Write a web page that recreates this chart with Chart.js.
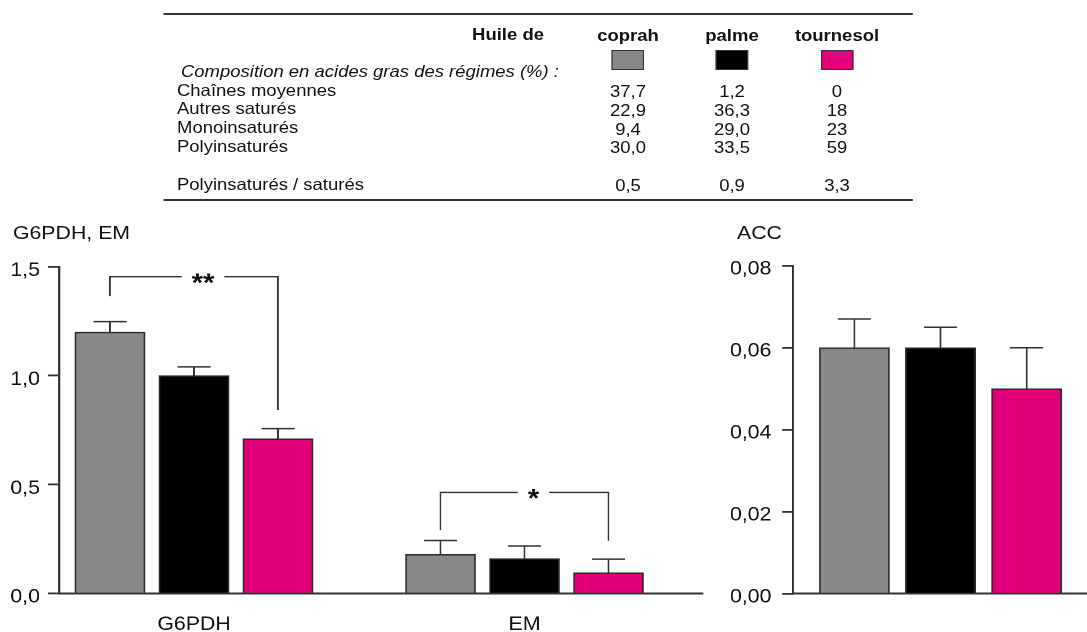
<!DOCTYPE html>
<html>
<head>
<meta charset="utf-8">
<title>Huiles de coprah, palme, tournesol</title>
<script src="https://cdn.jsdelivr.net/npm/chart.js@4.4.1/dist/chart.umd.min.js"></script>
<style>
  html, body { margin: 0; padding: 0; background: #fff; overflow: hidden; }
  body { width: 1087px; height: 632px; position: relative; }
  /* the whole figure is drawn slightly narrow and widened horizontally */
  #page {
    position: absolute; left: 0; top: 0;
    width: 970.6px; height: 632px;
    transform: scaleX(1.12); transform-origin: 0 0;
    font-family: "Liberation Sans", Arial, Helvetica, sans-serif;
    color: #111;
  }
  .t { position: absolute; white-space: nowrap; }
  .blk { position: absolute; box-sizing: border-box; }
  .wrap { position: absolute; }
</style>
</head>
<body>
<div id="page">
  <div class="wrap" id="enzWrap"><canvas id="enzChart"></canvas></div>
  <div class="wrap" id="accWrap"><canvas id="accChart"></canvas></div>
</div>
<script>
// ---- diets ----
const oils = ['coprah', 'palme', 'tournesol'];
const oilColors = ['#888888', '#000000', '#e2007a'];

// ---- fatty-acid composition of the diets (%) ----
const compTitle = 'Composition en acides gras des régimes (%) :';
const compRows = ['Chaînes moyennes', 'Autres saturés', 'Monoinsaturés', 'Polyinsaturés'];
const compCoprah = ['37,7', '22,9', '9,4', '30,0'];
const compPalme = ['1,2', '36,3', '29,0', '33,5'];
const compTournesol = ['0', '18', '23', '59'];
const ratioLabel = 'Polyinsaturés / saturés';
const ratioValues = ['0,5', '0,9', '3,3'];

// ---- G6PDH and EM activities ----
const enzymes = ['G6PDH', 'EM'];
const enzTickLabels = ['0,0', '0,5', '1,0', '1,5'];
const coprahEnz = [1.20, 0.18];
const palmeEnz = [1.00, 0.16];
const tournesolEnz = [0.71, 0.095];
const coprahEnzErr = [0.048, 0.063];
const palmeEnzErr = [0.04, 0.058];
const tournesolEnzErr = [0.047, 0.063];
// significance brackets: coprah vs tournesol
const enzSignif = [
  { category: 0, from: 0, to: 2, label: '**', level: 1.454, ends: [1.365, 0.842] },
  { category: 1, from: 0, to: 2, label: '*', level: 0.464, ends: [0.291, 0.242] }
];

// ---- ACC activity ----
const accTickLabels = ['0,00', '0,02', '0,04', '0,06', '0,08'];
const coprahAcc = [0.060];
const palmeAcc = [0.060];
const tournesolAcc = [0.050];
const coprahAccErr = [0.007];
const palmeAccErr = [0.005];
const tournesolAccErr = [0.010];

// ---- layout helpers (figure pixels -> page pixels before widening) ----
const S = 1.12;
const px = v => v / S;
const FONT = '"Liberation Sans", Arial, Helvetica, sans-serif';
const INK = '#111';
const LINE = '#333';
const page = document.getElementById('page');

function addText(str, x, baseline, size, opts = {}) {
  const d = document.createElement('div');
  d.className = 't';
  d.textContent = str;
  const L = Math.ceil(size * 1.3);
  d.style.fontSize = size + 'px';
  d.style.lineHeight = L + 'px';
  d.style.top = (baseline - ((L - 1.117 * size) / 2 + 0.905 * size)) + 'px';
  d.style.left = px(x) + 'px';
  if (opts.bold) d.style.fontWeight = 'bold';
  if (opts.italic) d.style.fontStyle = 'italic';
  if (opts.align === 'center') d.style.transform = 'translateX(-50%)';
  if (opts.align === 'right') d.style.transform = 'translateX(-100%)';
  page.appendChild(d);
}
function addBlock(x, y, w, h, style) {
  const d = document.createElement('div');
  d.className = 'blk';
  d.style.left = px(x) + 'px';
  d.style.top = y + 'px';
  d.style.width = px(w) + 'px';
  d.style.height = h + 'px';
  Object.assign(d.style, style);
  page.appendChild(d);
}

// ---- composition table ----
const colX = [628, 732, 837];
const compCols = [compCoprah, compPalme, compTournesol];
const TS = 16.5;
addBlock(163, 12.5, 750, 2, { background: LINE });
addBlock(163, 199, 750, 2, { background: LINE });
addText('Huile de', 544, 40, TS, { bold: true, align: 'right' });
oils.forEach((name, k) => {
  addText(name, colX[k], 40.5, TS, { bold: true, align: 'center' });
  addBlock(colX[k] - 16.5, 49.7, 33, 20, { background: oilColors[k], border: '1.5px solid #333' });
});
addText(compTitle, 181, 76.3, TS, { italic: true });
compRows.forEach((row, i) => {
  addText(row, 177, 95.5 + i * 18.7, TS);
  compCols.forEach((col, k) => addText(col[i], colX[k], 97.2 + i * 18.6, TS, { align: 'center' }));
});
addText(ratioLabel, 177, 189.8, TS);
ratioValues.forEach((v, k) => addText(v, colX[k], 191, TS, { align: 'center' }));

// ---- axis titles ----
addText('G6PDH, EM', 13, 239.3, 19);
addText('ACC', 737, 239.5, 19);

// ---- shared chart pieces ----
Chart.defaults.font.family = FONT;
Chart.defaults.color = INK;

const errorBars = {
  id: 'errorBars',
  afterDatasetsDraw(chart) {
    const { ctx } = chart;
    const y = chart.scales.y;
    const half = px(33) / 2;
    ctx.save();
    ctx.strokeStyle = LINE;
    ctx.lineWidth = 1.5;
    chart.data.datasets.forEach((ds, i) => {
      chart.getDatasetMeta(i).data.forEach((bar, j) => {
        const raw = ds.data[j];
        const v = typeof raw === 'object' ? raw.y : raw;
        const top = y.getPixelForValue(v + ds.err[j]);
        ctx.beginPath();
        ctx.moveTo(bar.x, bar.y);
        ctx.lineTo(bar.x, top);
        ctx.moveTo(bar.x - half, top);
        ctx.lineTo(bar.x + half, top);
        ctx.stroke();
      });
    });
    ctx.restore();
  }
};

function signifBrackets(items) {
  return {
    id: 'signifBrackets',
    afterDatasetsDraw(chart) {
      const { ctx } = chart;
      const y = chart.scales.y;
      const fs = 26;
      ctx.save();
      ctx.strokeStyle = LINE;
      ctx.lineWidth = 1.4;
      ctx.fillStyle = INK;
      ctx.font = 'bold ' + fs + 'px ' + FONT;
      ctx.textAlign = 'center';
      ctx.textBaseline = 'alphabetic';
      items.forEach(it => {
        const xa = chart.getDatasetMeta(it.from).data[it.category].x;
        const xb = chart.getDatasetMeta(it.to).data[it.category].x;
        const yl = y.getPixelForValue(it.level);
        const cx = (xa + xb) / 2 + px(9);
        const gap = ctx.measureText(it.label).width / 2 + px(10);
        ctx.beginPath();
        ctx.moveTo(xa, y.getPixelForValue(it.ends[0]));
        ctx.lineTo(xa, yl);
        ctx.lineTo(cx - gap, yl);
        ctx.moveTo(cx + gap, yl);
        ctx.lineTo(xb, yl);
        ctx.lineTo(xb, y.getPixelForValue(it.ends[1]));
        ctx.stroke();
        ctx.fillText(it.label, cx, yl + 0.56 * fs);
      });
      ctx.restore();
    }
  };
}

function valueAxis(min, max, step, labels, axisWidth, pad, labelOffset) {
  return {
    min, max,
    ticks: {
      stepSize: step, padding: pad, color: INK, font: { size: 19 }, labelOffset,
      callback: v => labels[Math.round(v / step)]
    },
    grid: { display: true, drawOnChartArea: false, drawTicks: true, tickLength: px(11), color: LINE, lineWidth: 1.8 },
    border: { display: true, color: LINE, width: 1.8 },
    afterFit(s) { s.width = axisWidth; }
  };
}

const common = {
  responsive: true,
  maintainAspectRatio: false,
  animation: false,
  devicePixelRatio: 2,
  plugins: { legend: { display: false }, tooltip: { enabled: false }, title: { display: false } }
};

// ---- G6PDH / EM chart ----
const enzWrap = document.getElementById('enzWrap');
Object.assign(enzWrap.style, { left: '0px', top: '220px', width: '640px', height: '420px' });
const enzSeries = [coprahEnz, palmeEnz, tournesolEnz];
const enzErr = [coprahEnzErr, palmeEnzErr, tournesolEnzErr];
// group centres of the two enzymes and the axis ends, in figure pixels
const enzGroupPx = [194, 524.5];
const enzAxisPx = [59, 703];
const unit = px(enzGroupPx[1] - enzGroupPx[0]);
const xMin = (px(enzAxisPx[0]) - px(enzGroupPx[0])) / unit;
const xMax = (px(enzAxisPx[1]) - px(enzGroupPx[0])) / unit;

new Chart(document.getElementById('enzChart'), {
  type: 'bar',
  data: {
    datasets: oils.map((name, k) => ({
      label: name,
      data: enzSeries[k].map((v, i) => ({ x: i, y: v })),
      err: enzErr[k],
      backgroundColor: oilColors[k],
      borderColor: '#2b2b2b',
      borderWidth: 1.5,
      barThickness: px(84),
      maxBarThickness: px(70)
    }))
  },
  options: Object.assign({}, common, {
    layout: { padding: { top: 46.7, right: 640 - px(enzAxisPx[1]), bottom: 0, left: 0 } },
    scales: {
      x: {
        type: 'linear', min: xMin, max: xMax, offset: false,
        grid: { display: false, offset: false },
        border: { display: true, color: LINE, width: 2 },
        ticks: { padding: 12, color: INK, font: { size: 19 }, maxRotation: 0, autoSkip: false,
                 callback: v => enzymes[v] },
        afterBuildTicks(s) { s.ticks = enzymes.map((_, i) => ({ value: i })); },
        afterFit(s) { s.height = 46.5; },
        z: 1
      },
      y: valueAxis(0, 1.5, 0.5, enzTickLabels, px(enzAxisPx[0]), 7.2, 4)
    }
  }),
  plugins: [errorBars, signifBrackets(enzSignif)]
});

// ---- ACC chart ----
const accWrap = document.getElementById('accWrap');
const accLeft = px(712);
const accWidth = px(1087 - 712);
Object.assign(accWrap.style, { left: accLeft + 'px', top: '220px', width: accWidth + 'px', height: '420px' });
const accSeries = [coprahAcc, palmeAcc, tournesolAcc];
const accErr = [coprahAccErr, palmeAccErr, tournesolAccErr];

new Chart(document.getElementById('accChart'), {
  type: 'bar',
  data: {
    labels: [''],
    datasets: oils.map((name, k) => ({
      label: name,
      data: accSeries[k],
      err: accErr[k],
      backgroundColor: oilColors[k],
      borderColor: '#2b2b2b',
      borderWidth: 1.5,
      barThickness: px(86),
      maxBarThickness: px(70)
    }))
  },
  options: Object.assign({}, common, {
    layout: { padding: { top: 45.7, right: 0, bottom: 0, left: 0 } },
    scales: {
      x: {
        grid: { display: false },
        border: { display: true, color: LINE, width: 2 },
        ticks: { display: false },
        afterFit(s) { s.height = 46.3; },
        z: 1
      },
      y: valueAxis(0, 0.08, 0.02, accTickLabels, px(792.7 - 712), 9.55, 3.5)
    }
  }),
  plugins: [errorBars]
});
</script>
</body>
</html>
